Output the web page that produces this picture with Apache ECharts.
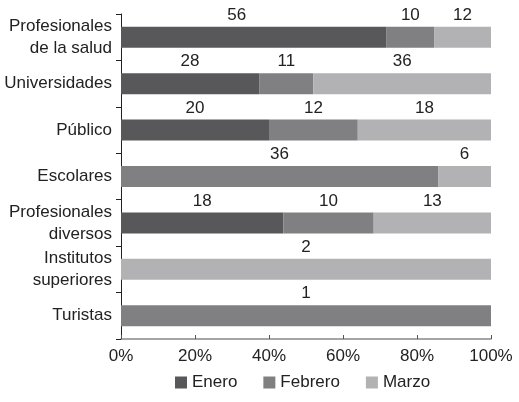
<!DOCTYPE html>
<html><head><meta charset="utf-8">
<script src="https://cdn.jsdelivr.net/npm/echarts@6/dist/echarts.min.js"></script>
<style>html,body{margin:0;padding:0;background:#fff}#c{width:519px;height:402px}</style>
</head><body><div id="c"></div>
<script>
var categories = ['Profesionales\nde la salud','Universidades','Público','Escolares','Profesionales\ndiversos','Institutos\nsuperiores','Turistas'];
var enero   = [56, 28, 20, 0, 18, 0, 0];
var febrero = [10, 11, 12, 36, 10, 0, 1];
var marzo   = [12, 36, 18, 6, 13, 2, 0];
var xTicks = [0, 20, 40, 60, 80, 100];
var seriesNames = ['Enero','Febrero','Marzo'];
var colors = ['#58585a','#808083','#b2b2b4'];

var raw = [enero, febrero, marzo];
var totals = categories.map(function(_, i){ return enero[i] + febrero[i] + marzo[i]; });
function pct(arr, k){
  return arr.map(function(v,i){
    var d = {value: v / totals[i] * 100, raw: v};
    if (k === 0 && i === 0) d.label = {offset: [-17, 0]};
    return d;
  });
}

var chart = echarts.init(document.getElementById('c'));
var font = 'Liberation Sans, Arial, sans-serif';
var fs = 17;
chart.setOption({
  animation: false,
  textStyle: {fontFamily: font},
  grid: {left: 121, right: 28, top: 14, bottom: 63, containLabel: false},
  legend: {
    data: seriesNames, bottom: 6, left: 170, itemWidth: 12, itemHeight: 12, itemGap: 26,
    icon: 'rect', textStyle: {fontSize: fs, color: '#222', fontFamily: font}
  },
  xAxis: {
    type: 'value', min: 0, max: 100, interval: 20,
    axisLine: {show: true, lineStyle: {color: '#888', width: 1.5}},
    axisTick: {show: true, inside: true, length: 4, lineStyle: {color: '#555'}},
    splitLine: {show: false},
    axisLabel: {fontSize: fs, color: '#222', margin: 9, fontFamily: font,
      formatter: function(v){ return xTicks.indexOf(v) >= 0 ? v + '%' : ''; }}
  },
  yAxis: {
    type: 'category', data: categories, inverse: true,
    axisLine: {show: true, lineStyle: {color: '#222', width: 1}},
    axisTick: {show: true, length: 5, lineStyle: {color: '#222'}},
    axisLabel: {fontSize: fs, color: '#222', margin: 9, align: 'right', lineHeight: 22, fontFamily: font}
  },
  series: raw.map(function(arr, k){
    return {
      name: seriesNames[k], type: 'bar', stack: 'total', barWidth: 21,
      itemStyle: {color: colors[k]},
      data: pct(arr, k),
      label: {
        show: true, position: 'top', distance: 3, fontSize: fs, color: '#222', fontFamily: font,
        formatter: function(p){ return p.data.raw ? String(p.data.raw) : ''; }
      }
    };
  })
});
</script></body></html>
